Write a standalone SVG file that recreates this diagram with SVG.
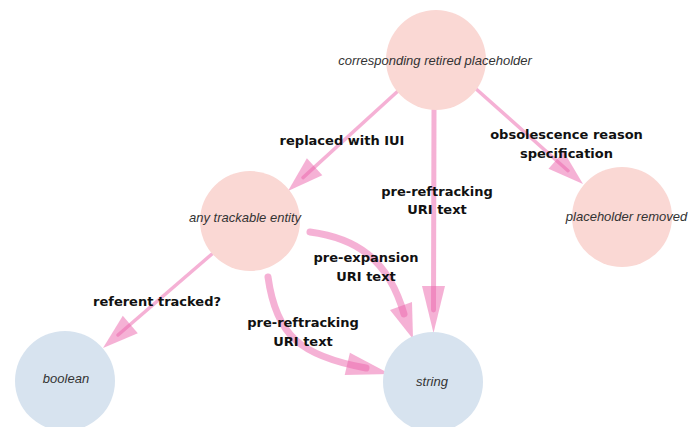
<svg xmlns="http://www.w3.org/2000/svg" width="700" height="427" viewBox="0 0 700 427">
<style>
.pink{fill:#fad8d4}
.blue{fill:#d7e3ef}
.nl{font-family:"Liberation Sans",Arial,sans-serif;font-style:italic;font-size:13px;fill:#333;text-anchor:middle}
.el{font-family:"DejaVu Sans",Verdana,sans-serif;font-weight:bold;font-size:13px;fill:#111;text-anchor:middle}
.ln{fill:none;stroke:rgb(235,100,171);stroke-opacity:0.5;stroke-linecap:round}
.ah{fill:rgb(235,100,171);fill-opacity:0.5}
</style>
<rect width="700" height="427" fill="#fff"/>
<g id="connectors">
<g id="e1">
<line class="ln" x1="398" y1="91" x2="303" y2="177.6" stroke-width="3.5"/>
<polygon class="ah" points="288,191 322.3,175.3 306.9,158.3"/>
</g>
<g id="e2">
<line class="ln" x1="434" y1="110" x2="433.5" y2="310" stroke-width="5"/>
<polygon class="ah" points="433.5,333 422,286 445,286"/>
</g>
<g id="e3">
<line class="ln" x1="475" y1="88" x2="568" y2="170.7" stroke-width="3.5"/>
<polygon class="ah" points="583,184 548.5,168.7 563.7,151.5"/>
</g>
<g id="e4">
<line class="ln" x1="212" y1="254" x2="118" y2="335" stroke-width="3.5"/>
<polygon class="ah" points="103,348 137.8,333.2 122.8,315.8"/>
</g>
<g id="e5">
<path class="ln" d="M268,277 C276,335 300,356 366,368" stroke-width="7"/>
<polygon class="ah" points="390,374 344.7,375.1 349.9,352.7"/>
</g>
<g id="e6">
<path class="ln" d="M310,232 C355,238 388,258 404,314" stroke-width="7"/>
<polygon class="ah" points="413,339 390,310 412,302"/>
</g>
<text class="el" x="342" y="144.5">replaced with IUI</text>
<text class="el" x="437" y="195.5">pre-reftracking</text>
<text class="el" x="437" y="214">URI text</text>
<text class="el" x="566.5" y="138.5">obsolescence reason</text>
<text class="el" x="566.5" y="157.5">specification</text>
<text class="el" x="366" y="262">pre-expansion</text>
<text class="el" x="366" y="280.5">URI text</text>
<text class="el" x="157" y="306">referent tracked?</text>
<text class="el" x="303" y="327">pre-reftracking</text>
<text class="el" x="303" y="346">URI text</text>
</g>
<g id="n1">
<circle class="pink" cx="436" cy="60" r="50"/>
<text class="nl" x="435" y="64.5">corresponding retired placeholder</text>
</g>
<g id="n2">
<circle class="pink" cx="250" cy="221" r="50"/>
<text class="nl" x="245" y="221.5">any trackable entity</text>
</g>
<g id="n3">
<circle class="pink" cx="622" cy="217" r="50"/>
<text class="nl" x="626.5" y="220.5">placeholder removed</text>
</g>
<g id="n4">
<circle class="blue" cx="65" cy="381" r="50"/>
<text class="nl" x="66" y="382.5">boolean</text>
</g>
<g id="n5">
<circle class="blue" cx="433" cy="382" r="50"/>
<text class="nl" x="432" y="386">string</text>
</g>
</svg>
